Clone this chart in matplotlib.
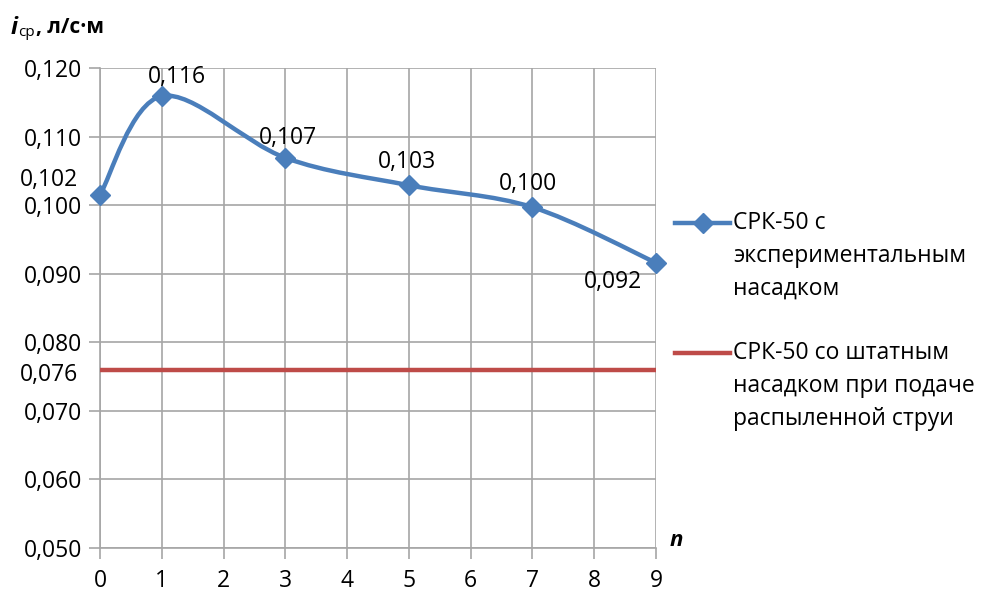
import matplotlib
matplotlib.use("Agg")
import matplotlib.pyplot as plt
from matplotlib.path import Path
from matplotlib.patches import PathPatch
from matplotlib.lines import Line2D
import numpy as np

plt.rcParams['font.family'] = ['Open Sans', 'DejaVu Sans']

n_vals = [0, 1, 3, 5, 7, 9]
i_exp = [0.1015, 0.1159, 0.1069, 0.1029, 0.0997, 0.0916]
exp_labels = ["0,102", "0,116", "0,107", "0,103", "0,100", "0,092"]
i_std = 0.076
std_label = "0,076"
yticks = [0.050, 0.060, 0.070, 0.080, 0.090, 0.100, 0.110, 0.120]
ytick_labels = ["0,050", "0,060", "0,070", "0,080", "0,090", "0,100", "0,110", "0,120"]
xticks = list(range(10))
legend_exp = "СРК-50 с\nэкспериментальным\nнасадком"
legend_std = "СРК-50 со штатным\nнасадком при подаче\nраспыленной струи"

blue = "#4a7ebb"
red = "#be4b48"
grid_c = "#a6a6a6"
fs = 16.5

fig = plt.figure(figsize=(9.82, 5.92), dpi=100)
ax = fig.add_axes([100/982, 1-548/592, 556/982, 480/592])
ax.set_xlim(0, 9)
ax.set_ylim(0.050, 0.120)
ax.set_xticks(xticks)
ax.set_xticklabels([str(v) for v in xticks], fontsize=fs)
ax.set_yticks(yticks)
ax.set_yticklabels(ytick_labels, fontsize=fs)
ax.grid(True, color=grid_c, linewidth=1.2)
for s in ax.spines.values():
    s.set_visible(False)
for side in ('left', 'bottom'):
    ax.spines[side].set_visible(True)
    ax.spines[side].set_color(grid_c)
    ax.spines[side].set_linewidth(1.2)
ax.tick_params(direction='out', length=8, color=grid_c, width=1.2, pad=5)
ax.tick_params(axis='x', pad=7)

# red line
ax.plot([0, 9], [i_std, i_std], color=red, linewidth=3.2, solid_capstyle='butt', zorder=3)

# smooth (Bezier, Excel-like) curve through points
P = np.column_stack([n_vals, i_exp])
verts = [tuple(P[0])]
codes = [Path.MOVETO]
m = len(P)
for k in range(m - 1):
    p0 = P[k - 1] if k > 0 else P[k]
    p1 = P[k]
    p2 = P[k + 1]
    p3 = P[k + 2] if k + 2 < m else P[k + 1]
    c1 = p1 + (p2 - p0) / 6.0
    c2 = p2 - (p3 - p1) / 6.0
    verts += [tuple(c1), tuple(c2), tuple(p2)]
    codes += [Path.CURVE4] * 3
patch = PathPatch(Path(verts, codes), facecolor='none', edgecolor=blue, linewidth=3.2,
                  transform=ax.transData, zorder=4, clip_on=False)
ax.add_patch(patch)
ax.plot(n_vals, i_exp, linestyle='none', marker='D', markersize=10, color=blue, zorder=5, clip_on=False)

# data labels
offsets = [None, (11, 14), (2, 14), (-1.5, 16.5), (-3, 17), (-31, -14)]
for k in range(1, len(n_vals)):
    ax.annotate(exp_labels[k], (n_vals[k], i_exp[k]), xytext=offsets[k], textcoords='offset points',
                ha='center', va='center', fontsize=fs)
ax.annotate(exp_labels[0], (0, 0.1037), xytext=(-16, 0), textcoords='offset points',
            ha='right', va='center', fontsize=fs, annotation_clip=False)
ax.annotate(std_label, (0, 0.0752), xytext=(-16, 0), textcoords='offset points',
            ha='right', va='center', fontsize=fs, annotation_clip=False)

# axis titles
fig.text(11/982, 1-28/592, "i", fontsize=17, fontweight='bold', fontstyle='italic', va='center', ha='left')
fig.text(18/982, 1-33/592, "ср", fontsize=11, va='center', ha='left')
fig.text(36/982, 1-28/592, ", л/с·м", fontsize=15, fontweight='bold', va='center', ha='left')
fig.text(670/982, 1-541/592, "n", fontsize=16, fontweight='bold', fontstyle='italic', va='center', ha='left')

# legend (manual)
y1 = 1 - 223/592
y2 = 1 - 353/592
fig.add_artist(Line2D([675/982, 730/982], [y1, y1], color=blue, linewidth=3.2))
fig.add_artist(Line2D([702.5/982], [y1], color=blue, marker='D', markersize=10, linestyle='none'))
fig.add_artist(Line2D([675/982, 730/982], [y2, y2], color=red, linewidth=3.2))
fig.text(733/982, y1 + 12/592, legend_exp, fontsize=fs, va='top', ha='left', linespacing=1.5)
fig.text(733/982, y2 + 12/592, legend_std, fontsize=fs, va='top', ha='left', linespacing=1.5)

fig.savefig("out.png", dpi=100)
